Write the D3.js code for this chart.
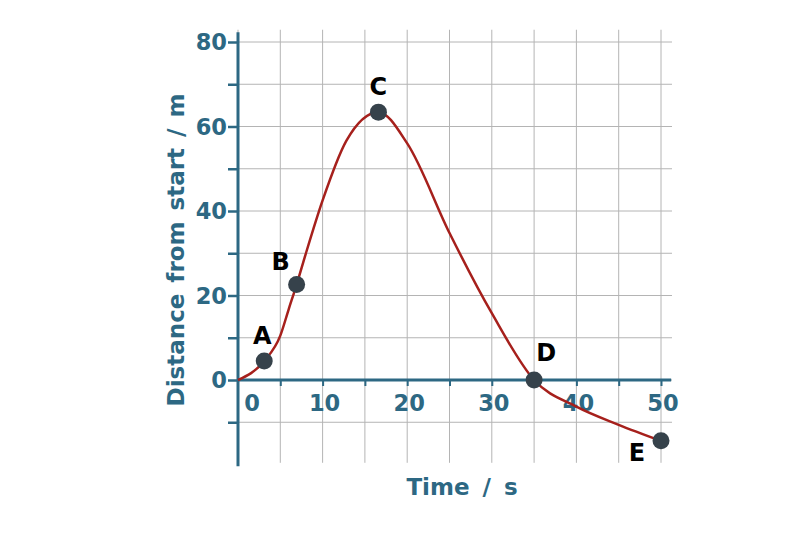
<!DOCTYPE html>
<html>
<head>
<meta charset="utf-8">
<script src="https://cdn.jsdelivr.net/npm/d3@7"></script>
<style>
  html, body { margin: 0; padding: 0; background: #fff; }
  svg { display: block; font-family: "DejaVu Sans", Verdana, sans-serif; }
</style>
</head>
<body>
<svg id="chart" width="808" height="553"></svg>
<script>
// ---- data ----
const curveTime = [0, 3.1, 5, 6, 6.93, 8, 10, 12.8, 16.6, 20, 25, 30, 35, 40, 45, 50];
const curveDist = [0, 4.5, 10.5, 16.8, 22.6, 29.8, 42.5, 56.6, 63.4, 56, 34.8, 15.8, 0, -6.3, -10.6, -14.4];
const pointLabels = ["A", "B", "C", "D", "E"];
const pointTime = [3.1, 6.93, 16.6, 35, 50];
const pointDist = [4.5, 22.6, 63.4, 0, -14.4];
const xTickLabels = [0, 10, 20, 30, 40, 50];
const yTickLabels = [0, 20, 40, 60, 80];
const xTitle = "Time / s";
const yTitle = "Distance from start / m";

// ---- layout ----
const svg = d3.select("#chart");
const axisColor = "#2d6883";
const gridColor = "#b4b4b4";
const x = d3.scaleLinear().domain([0, 50]).range([238, 661]);
const y = d3.scaleLinear().domain([-20, 80]).range([464.5, 42]);

// grid
const grid = svg.append("g");
grid.selectAll("line.v").data(d3.range(0, 51, 5)).join("line")
  .attr("x1", d => x(d)).attr("x2", d => x(d))
  .attr("y1", y(82.9)).attr("y2", y(-19.6))
  .attr("stroke", gridColor).attr("stroke-width", 1);
grid.selectAll("line.h").data(d3.range(-10, 81, 10)).join("line")
  .attr("x1", x(0)).attr("x2", x(51.3))
  .attr("y1", d => y(d)).attr("y2", d => y(d))
  .attr("stroke", gridColor).attr("stroke-width", 1);

// y axis
const yAxis = d3.axisLeft(y).tickValues(d3.range(-10, 81, 10)).tickSize(10).tickFormat("");
const gy = svg.append("g").attr("transform", `translate(${x(0)},0)`).call(yAxis);
gy.select(".domain").remove();
gy.selectAll(".tick line").attr("stroke", axisColor).attr("stroke-width", 2.5);
svg.append("line").attr("x1", x(0)).attr("x2", x(0)).attr("y1", y(82.3)).attr("y2", y(-20.4))
  .attr("stroke", axisColor).attr("stroke-width", 3);

// x axis
const xAxis = d3.axisBottom(x).tickValues(d3.range(5, 51, 5)).tickSize(6).tickFormat("");
const gx = svg.append("g").attr("transform", `translate(0,${y(0)})`).call(xAxis);
gx.select(".domain").remove();
gx.selectAll(".tick line").attr("stroke", axisColor).attr("stroke-width", 2);
svg.append("line").attr("x1", x(0)).attr("x2", x(51.2)).attr("y1", y(0)).attr("y2", y(0))
  .attr("stroke", axisColor).attr("stroke-width", 3);

// tick labels
svg.append("g").selectAll("text").data(yTickLabels).join("text")
  .attr("x", x(0) - 11).attr("y", d => y(d))
  .attr("dy", "0.36em")
  .attr("text-anchor", "end")
  .attr("font-size", 22.5).attr("font-weight", "bold").attr("fill", axisColor)
  .text(d => d);
svg.append("g").selectAll("text").data(xTickLabels).join("text")
  .attr("x", d => d === 0 ? x(d) + 14 : x(d) + 2).attr("y", y(0) + 23)
  .attr("dy", "0.36em")
  .attr("text-anchor", "middle")
  .attr("font-size", 22.5).attr("font-weight", "bold").attr("fill", axisColor)
  .text(d => d);

// titles
svg.append("text").attr("x", 462).attr("y", 487).attr("dy", "0.36em")
  .attr("text-anchor", "middle").attr("font-size", 23).attr("font-weight", "bold")
  .attr("word-spacing", 5)
  .attr("fill", axisColor).text(xTitle);
svg.append("text").attr("transform", `translate(176,250) rotate(-90)`).attr("dy", "0.36em")
  .attr("text-anchor", "middle").attr("font-size", 23).attr("font-weight", "bold")
  .attr("word-spacing", 3)
  .attr("fill", axisColor).text(yTitle);

// curve
const curveData = curveTime.map((t, i) => [t, curveDist[i]]);
const line = d3.line().x(d => x(d[0])).y(d => y(d[1])).curve(d3.curveMonotoneX);
svg.append("path").attr("d", line(curveData))
  .attr("fill", "none").attr("stroke", "#a6201c").attr("stroke-width", 2.5);

// points
const pts = pointLabels.map((l, i) => ({ l, t: pointTime[i], d: pointDist[i] }));
svg.append("g").selectAll("circle").data(pts).join("circle")
  .attr("cx", d => x(d.t)).attr("cy", d => y(d.d)).attr("r", 8.5)
  .attr("fill", "#36424b");
const labelOffset = { A: [-2, -26], B: [-16, -23], C: [0, -26], D: [12, -28], E: [-24, 12] };
svg.append("g").selectAll("text").data(pts).join("text")
  .attr("x", d => x(d.t) + labelOffset[d.l][0])
  .attr("y", d => y(d.d) + labelOffset[d.l][1])
  .attr("dy", "0.36em").attr("text-anchor", "middle")
  .attr("font-size", 24).attr("font-weight", "bold").attr("fill", "#000")
  .text(d => d.l);
</script>
</body>
</html>
